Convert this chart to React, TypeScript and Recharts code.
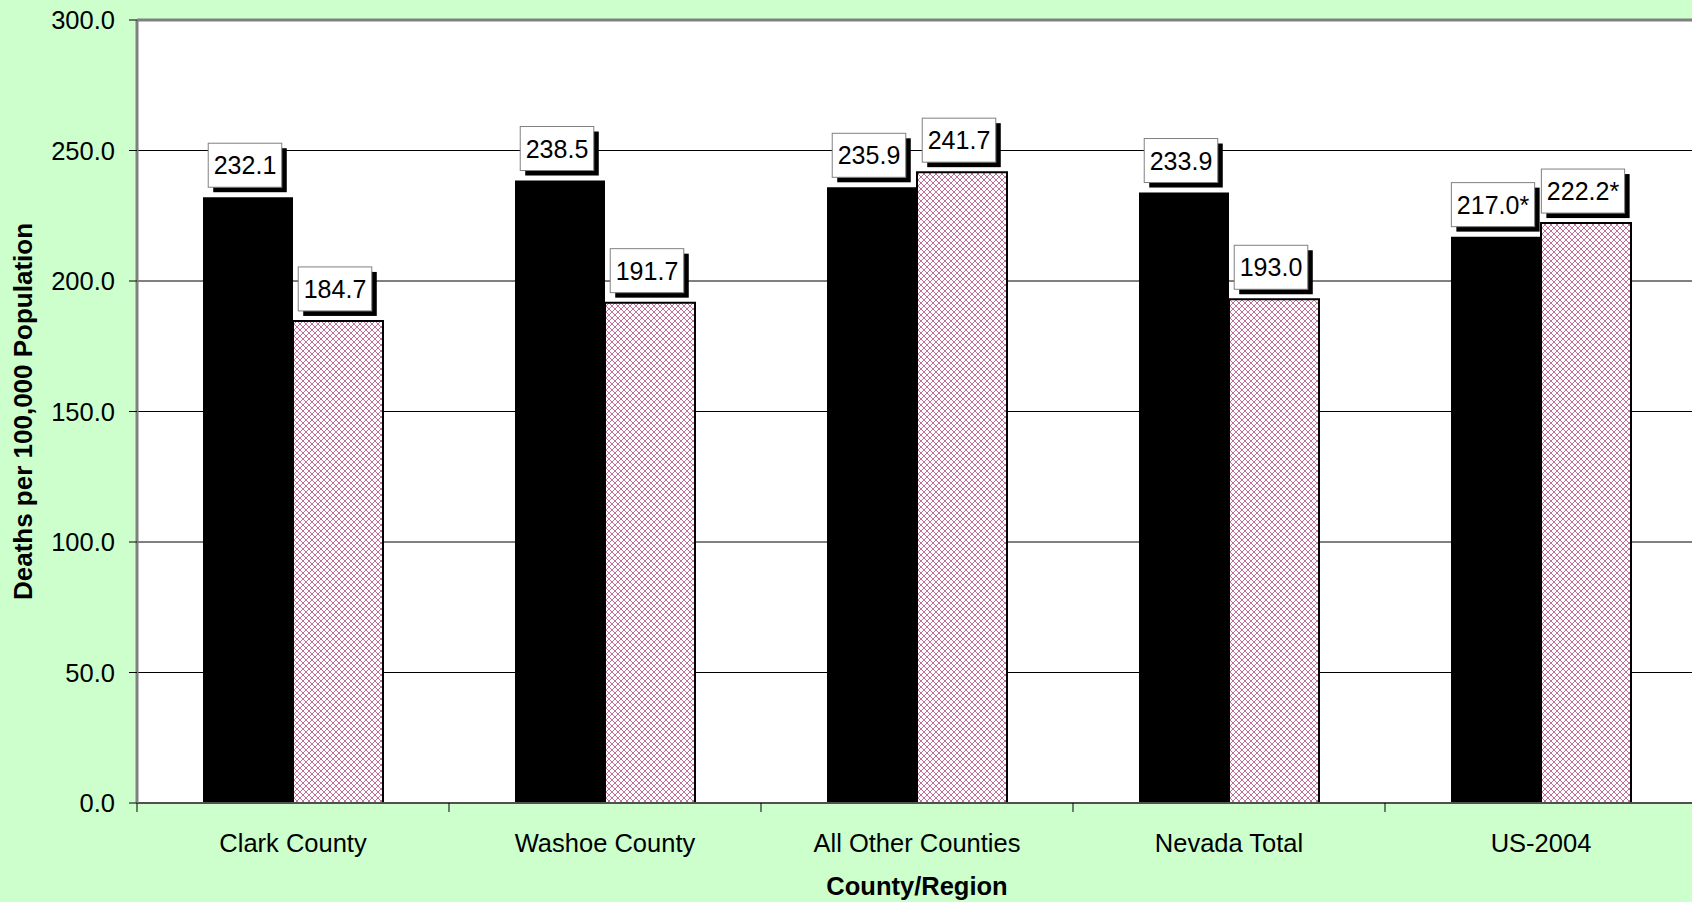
import React from "react";
import { BarChart, Bar, XAxis, YAxis, CartesianGrid, LabelList, ReferenceLine } from "recharts";

// ---- data ----
const categories = ["Clark County", "Washoe County", "All Other Counties", "Nevada Total", "US-2004"];
const ageAdjustedRates = [232.1, 238.5, 235.9, 233.9, 217.0];
const crudeRates = [184.7, 191.7, 241.7, 193.0, 222.2];
const footnoted = [false, false, false, false, true];
const yTicks = [0, 50, 100, 150, 200, 250, 300];

const rows = categories.map((c, i) => ({
  category: c,
  ageAdjusted: ageAdjustedRates[i],
  crude: crudeRates[i],
  star: footnoted[i],
}));

// ---- layout ----
const CHART_W = 1700;
const CHART_H = 902;
const Y_AXIS_W = 137;
const MARGIN_RIGHT = 3;
const BAND = (CHART_W - Y_AXIS_W - MARGIN_RIGHT) / categories.length;
const FONT = 'Arial, "Liberation Sans", Helvetica, sans-serif';

const charW = (ch: string, size: number) => {
  if (ch === ".") return 0.278 * size;
  if (ch === "*") return 0.389 * size;
  return 0.556 * size;
};

const makeLabel = (key: "ageAdjusted" | "crude") => (props: any) => {
  const { x, y, width, value, index } = props;
  const text = Number(value).toFixed(1) + (rows[index]?.star ? "*" : "");
  const fs = 25;
  const tw = text.split("").reduce((s, ch) => s + charW(ch, fs), 0);
  const w = tw + 11;
  const h = 44;
  const cx = Number(x) + Number(width) / 2 - 3;
  const bottom = Number(y) - 10;
  const top = bottom - h;
  return (
    <g key={key + index}>
      <rect x={cx - w / 2 + 5} y={top + 5} width={w} height={h} fill="#000" />
      <rect x={cx - w / 2} y={top} width={w} height={h} fill="#fff" stroke="#808080" strokeWidth={1} />
      <text x={cx} y={top + h / 2 + 9} textAnchor="middle" fontSize={fs} fontFamily={FONT} fill="#000">
        {text}
      </text>
    </g>
  );
};

const CategoryTick = (props: any) => {
  const { x, y, payload } = props;
  const lx = x - BAND / 2;
  return (
    <g>
      <line x1={lx} x2={lx} y1={y} y2={y + 9} stroke="#000" strokeWidth={1} />
      <text x={x} y={y + 49} textAnchor="middle" fontSize={25.5} fontFamily={FONT} fill="#000">
        {payload.value}
      </text>
    </g>
  );
};

const YTitle = (props: any) => {
  const vb = props.viewBox || {};
  const cy = (vb.y ?? 20) + (vb.height ?? 783) / 2;
  const cx = 23;
  return (
    <text
      x={cx}
      y={cy}
      transform={`rotate(-90 ${cx} ${cy})`}
      textAnchor="middle"
      dominantBaseline="central"
      fontSize={26}
      fontWeight="bold"
      fontFamily={FONT}
      fill="#000"
    >
      Deaths per 100,000 Population
    </text>
  );
};

const XTitle = (props: any) => {
  const vb = props.viewBox || {};
  const cx = (vb.x ?? 137) + (vb.width ?? 1560) / 2;
  return (
    <text x={cx} y={895} textAnchor="middle" fontSize={25.5} fontWeight="bold" fontFamily={FONT} fill="#000">
      County/Region
    </text>
  );
};

export default function App() {
  return (
    <div
      style={{
        position: "fixed",
        left: 0,
        top: 0,
        width: 1692,
        height: 902,
        overflow: "hidden",
        background: "#CCFFCC",
        fontFamily: FONT,
      }}
    >
      <svg width={0} height={0} style={{ position: "absolute" }}>
        <defs>
          <pattern id="pinkHatch" width={6} height={6} patternUnits="userSpaceOnUse">
            <rect width={6} height={6} fill="#fff" />
            <path d="M0,0 L6,6 M6,0 L0,6 M-1,5 L1,7 M5,-1 L7,1 M-1,1 L1,-1 M5,7 L7,5" stroke="#bf6f98" strokeWidth={1} />
          </pattern>
        </defs>
      </svg>
      <BarChart
        width={CHART_W}
        height={CHART_H}
        data={rows}
        margin={{ top: 20, right: MARGIN_RIGHT, left: 0, bottom: 0 }}
        barGap={0}
      >
        <CartesianGrid horizontal vertical={false} stroke="#000" strokeWidth={1} fill="#fff" />
        <ReferenceLine y={300} stroke="#808080" strokeWidth={3} />
        <XAxis
          dataKey="category"
          height={99}
          interval={0}
          tickSize={0}
          tickMargin={0}
          tickLine={false}
          axisLine={{ stroke: "#505050", strokeWidth: 2 }}
          tick={<CategoryTick />}
          label={<XTitle />}
        />
        <YAxis
          width={Y_AXIS_W}
          domain={[0, 300]}
          ticks={yTicks}
          interval={0}
          tickFormatter={(v: number) => v.toFixed(1)}
          tickSize={8}
          tickMargin={14}
          tickLine={{ stroke: "#000" }}
          axisLine={{ stroke: "#808080", strokeWidth: 3 }}
          tick={{ fontSize: 25.5, fill: "#000", fontFamily: FONT }}
          label={<YTitle />}
        />
        <Bar dataKey="ageAdjusted" name="Age-Adjusted Rate" fill="#000" barSize={90} isAnimationActive={false}>
          <LabelList dataKey="ageAdjusted" content={makeLabel("ageAdjusted")} />
        </Bar>
        <Bar
          dataKey="crude"
          name="Crude Rate"
          fill="url(#pinkHatch)"
          stroke="#000"
          strokeWidth={2}
          barSize={90}
          isAnimationActive={false}
        >
          <LabelList dataKey="crude" content={makeLabel("crude")} />
        </Bar>
      </BarChart>
    </div>
  );
}
